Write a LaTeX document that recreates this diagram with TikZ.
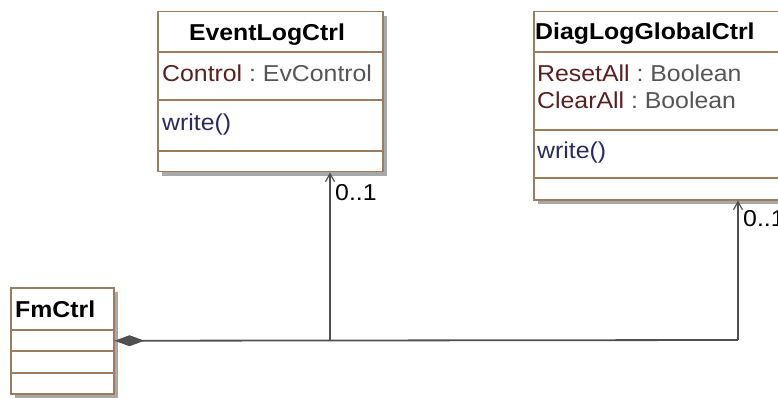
\documentclass[tikz,border=0pt]{standalone}
\usepackage{fontspec}
\setmainfont{Liberation Sans}[FakeStretch=1.08]
\usetikzlibrary{arrows.meta,shadows}
\definecolor{boxline}{HTML}{9C7C5C}
\definecolor{attrname}{HTML}{5A2020}
\definecolor{typegray}{HTML}{555555}
\definecolor{opblue}{HTML}{2A2A5E}
\definecolor{linegray}{HTML}{505050}
\definecolor{shadowgray}{HTML}{A8A8A8}
\tikzset{
  classbox/.style={draw=boxline, line width=1.5pt, fill=white, rectangle, inner sep=0pt, anchor=north west,
    drop shadow={shadow xshift=4pt, shadow yshift=-4pt, fill=shadowgray, opacity=1}},
  sep/.style={draw=boxline, line width=1.5pt},
  txt/.style={inner sep=0pt, font=\fontsize{23}{26}\selectfont},
  title/.style={txt, font=\fontsize{23}{26}\selectfont\bfseries, anchor=base},
  assoc/.style={draw=linegray, line width=1.8pt},
  navi/.style={-{Straight Barb[length=8pt,width=9pt,line width=1.2pt]}},
  compo/.style={{Diamond[length=30pt,width=11pt,fill=linegray]}-}
}
\begin{document}
\begin{tikzpicture}[x=1pt,y=-1pt]
\useasboundingbox (0,0) rectangle (778,398);
\clip (0,0) rectangle (778,398);
% EventLogCtrl
\node[classbox, minimum width=225pt, minimum height=160pt] (evt) at (157,11) {};
\draw[sep] (evt.west |- 0,52) -- (evt.east |- 0,52);
\draw[sep] (evt.west |- 0,100) -- (evt.east |- 0,100);
\draw[sep] (evt.west |- 0,151) -- (evt.east |- 0,151);
\node[title] (evtt) at (267,41) {EventLogCtrl};
\node[txt, anchor=base west] (evta) at (162,82) {\textcolor{attrname}{Control}\textcolor{typegray}{\ :\ EvControl}};
\node[txt, anchor=base west, text=opblue] (evto) at (162,131) {write()};
% DiagLogGlobalCtrl
\node[classbox, minimum width=260pt, minimum height=188pt] (diag) at (533,11) {};
\draw[sep] (diag.west |- 0,52) -- (diag.east |- 0,52);
\draw[sep] (diag.west |- 0,130) -- (diag.east |- 0,130);
\draw[sep] (diag.west |- 0,178) -- (diag.east |- 0,178);
\node[title, anchor=base west] (diagt) at (535,40) {DiagLogGlobalCtrl};
\node[txt, anchor=base west] (diaga1) at (537,82) {\textcolor{attrname}{ResetAll}\textcolor{typegray}{\ :\ Boolean}};
\node[txt, anchor=base west] (diaga2) at (537,109) {\textcolor{attrname}{ClearAll}\textcolor{typegray}{\ :\ Boolean}};
\node[txt, anchor=base west, text=opblue] (diago) at (537,159) {write()};
% FmCtrl
\node[classbox, minimum width=103pt, minimum height=106pt] (fm) at (10,287) {};
\draw[sep] (fm.west |- 0,330) -- (fm.east |- 0,330);
\draw[sep] (fm.west |- 0,351) -- (fm.east |- 0,351);
\draw[sep] (fm.west |- 0,373) -- (fm.east |- 0,373);
\node[title, anchor=base west] (fmt) at (15,317) {FmCtrl};
% connectors
\coordinate (j1) at (330,340);
\coordinate (j2) at (738,340);
\draw[assoc, compo] (fm.east) -- (j2);
\draw[assoc, navi] (j1) -- (j1 |- evt.south);
\draw[assoc, navi] (j2) -- (j2 |- diag.south);
\node[txt, anchor=base west] (m1) at (335,200) {0..1};
\node[txt, anchor=base west] (m2) at (743,226) {0..1};
\end{tikzpicture}
\end{document}
